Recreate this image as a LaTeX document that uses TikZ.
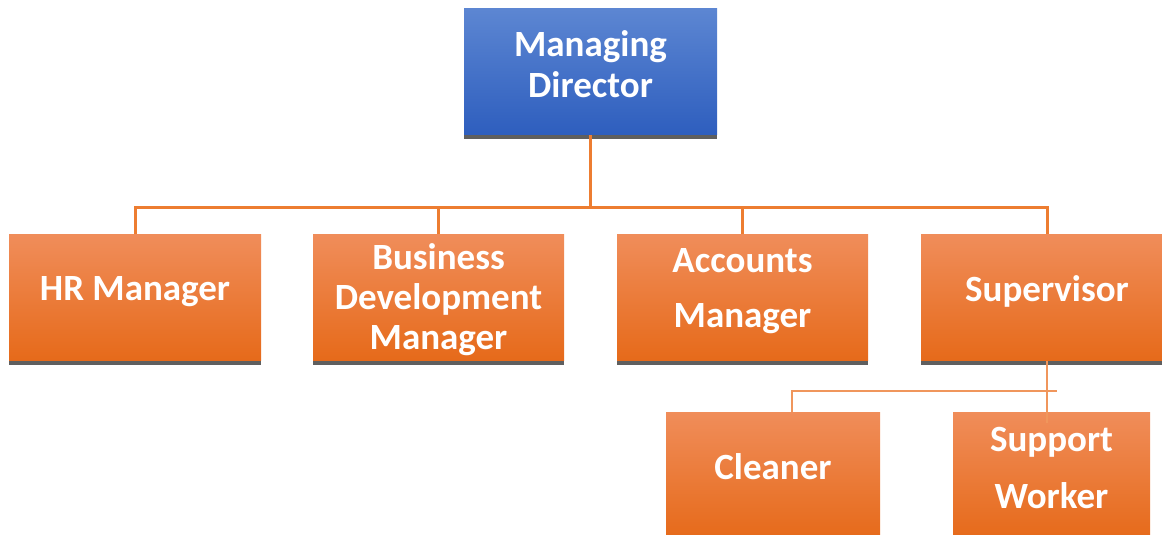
\documentclass[tikz,border=0pt]{standalone}
\usepackage{fontspec}
\setmainfont{Carlito}
\definecolor{blueTop}{RGB}{92,134,210}
\definecolor{blueBot}{RGB}{46,94,190}
\definecolor{orTop}{RGB}{240,141,90}
\definecolor{orMid}{RGB}{244,124,44}
\definecolor{orBot}{RGB}{230,106,26}
\definecolor{shadowgray}{RGB}{95,95,95}
\definecolor{linkor}{RGB}{237,125,49}
\definecolor{sublink}{RGB}{240,150,92}
\tikzset{
  box/.style={rectangle, inner sep=0pt},
  boxtext/.style={inner sep=0pt, text=white, align=center,
    font=\fontsize{18.5}{20.5}\selectfont\bfseries},
  bluebox/.style={box, top color=blueTop, bottom color=blueBot},
  orbox/.style={box, top color=orTop, middle color=orMid, bottom color=orBot},
  mainlink/.style={draw=linkor, line width=1.5pt},
  sublinkstyle/.style={draw=sublink, line width=0.8pt},
  shadowbar/.style={fill=shadowgray}
}
\begin{document}
\begin{tikzpicture}[x=0.5pt, y=-0.5pt]
\useasboundingbox (0,0) rectangle (1162,535);
\clip (0,0) rectangle (1162,535);
% boxes
\node[bluebox, minimum width=126.5pt, minimum height=63pt] (md) at (590.5,72) {};
\node[orbox, minimum width=126pt, minimum height=63pt] (hr) at (135,297.5) {};
\node[orbox, minimum width=125.5pt, minimum height=63pt] (bdm) at (438.5,297.5) {};
\node[orbox, minimum width=125.5pt, minimum height=63pt] (acc) at (742.5,297.5) {};
\node[orbox, minimum width=126pt, minimum height=63pt] (sup) at (1047,297.5) {};
\node[orbox, minimum width=107pt, minimum height=63pt] (cl) at (773,475) {};
\node[orbox, minimum width=98.5pt, minimum height=63pt] (sw) at (1051.5,475) {};
% texts
\node[boxtext] (mdT) at ([yshift=4pt]md.center) {Managing\\Director};
\node[boxtext] (hrT) at ([yshift=3pt]hr.center) {HR Manager};
\node[boxtext] (bdmT) at ([yshift=-1pt]bdm.center) {Business\\[-0.5pt]Development\\[-0.5pt]Manager};
\node[boxtext] (accT) at ([yshift=3pt]acc.center) {Accounts\\[7pt]Manager};
\node[boxtext] (supT) at ([yshift=3pt]sup.center) {Supervisor};
\node[boxtext] (clT) at ([yshift=4pt]cl.center) {Cleaner};
\node[boxtext] (swT) at ([yshift=3.5pt]sw.center) {Support\\[8pt]Worker};
% shadows
\foreach \n in {md,hr,bdm,acc,sup}{
  \fill[shadowbar] (\n.south west) rectangle ([yshift=-2pt]\n.south east);
}
% main connectors
\coordinate (bus) at (590.5,207);
\draw[mainlink] (md.south) -- (bus);
\draw[mainlink] (hr.north) |- (bus) -| (sup.north);
\draw[mainlink] (bdm.north) -- (bdm.north |- bus);
\draw[mainlink] (acc.north) -- (acc.north |- bus);
% sub connectors
\coordinate (subL) at (792,391);
\coordinate (subR) at (1057,391);
\coordinate (swin) at (1047,423);
\draw[sublinkstyle] (sup.south) -- (swin);
\draw[sublinkstyle] (cl.north -| subL) -- (subL) -- (subR);
\end{tikzpicture}
\end{document}
